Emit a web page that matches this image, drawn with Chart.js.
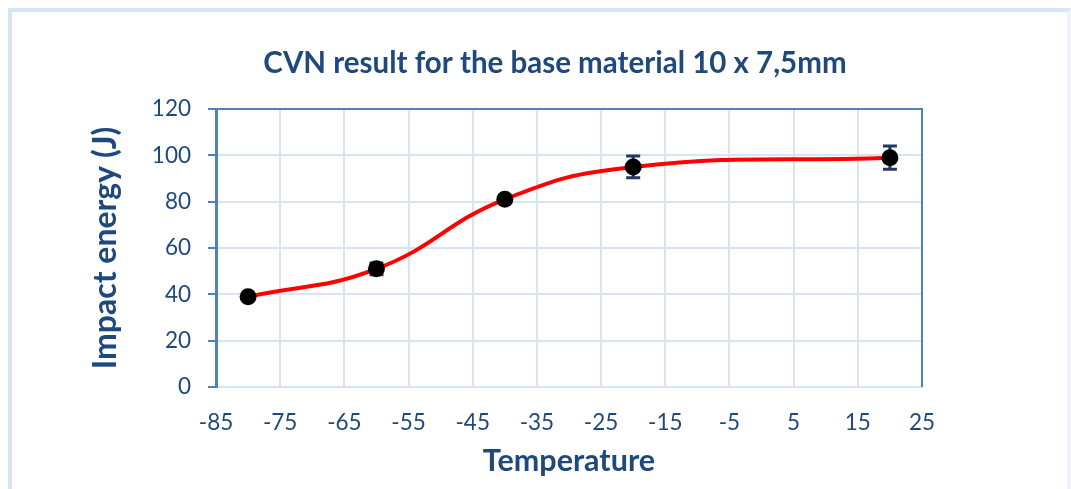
<!DOCTYPE html>
<html>
<head>
<meta charset="utf-8">
<script src="https://cdn.jsdelivr.net/npm/chart.js@4/dist/chart.umd.min.js"></script>
<style>
  html,body{margin:0;padding:0;background:#fff;}
  #frame{position:absolute;left:8px;top:8px;width:1055px;height:500px;border:4px solid #d8e4f3;border-right-color:#eef3fa;}
  #wrap{position:absolute;left:0;top:0;width:1071px;height:489px;}
</style>
</head>
<body>
<div id="frame"></div>
<div id="wrap"><canvas id="c" width="1071" height="489"></canvas></div>
<script>
// data
const temps = [-80, -60, -40, -20, 20];
const energy = [39, 51, 81, 95, 99];
const errs = [0, 2.5, 0, 4.7, 5];
const xTicks = [-85, -75, -65, -55, -45, -35, -25, -15, -5, 5, 15, 25];
const yTicks = [0, 20, 40, 60, 80, 100, 120];

const navy = '#1f497d', axisBlue = '#4f81bd', gridBlue = '#d9e4f3';
const FONT = "Lato, 'Open Sans', sans-serif";

// error bars + dark plot border (top/right)
const extras = {
  id: 'extras',
  beforeDatasetsDraw(chart) {
    const {ctx, chartArea: a} = chart;
    ctx.save();
    ctx.strokeStyle = axisBlue; ctx.lineWidth = 2;
    ctx.beginPath();
    ctx.moveTo(a.left, a.top); ctx.lineTo(a.right, a.top); ctx.lineTo(a.right, a.bottom);
    ctx.stroke();
    ctx.restore();
  },
  afterDatasetsDraw(chart) {
    const {ctx, scales: {x, y}} = chart;
    ctx.save();
    ctx.strokeStyle = '#1f3864'; ctx.lineWidth = 3;
    temps.forEach((t, i) => {
      if (!errs[i]) return;
      const px = x.getPixelForValue(t);
      const y1 = y.getPixelForValue(energy[i] + errs[i]);
      const y2 = y.getPixelForValue(energy[i] - errs[i]);
      ctx.beginPath();
      ctx.moveTo(px, y1); ctx.lineTo(px, y2);
      ctx.moveTo(px - 7, y1); ctx.lineTo(px + 7, y1);
      ctx.moveTo(px - 7, y2); ctx.lineTo(px + 7, y2);
      ctx.stroke();
    });
    // points on top of the bars
    ctx.fillStyle = '#000';
    temps.forEach((t, i) => {
      ctx.beginPath();
      ctx.arc(x.getPixelForValue(t), y.getPixelForValue(energy[i]), 8.5, 0, Math.PI * 2);
      ctx.fill();
    });
    ctx.restore();
  }
};

new Chart(document.getElementById('c'), {
  type: 'line',
  data: {
    datasets: [{
      data: temps.map((t, i) => ({x: t, y: energy[i]})),
      borderColor: '#ff0000',
      borderWidth: 4,
      tension: 0.45,
      pointRadius: 0,
      fill: false
    }]
  },
  plugins: [extras],
  options: {
    responsive: false,
    animation: false,
    layout: {padding: {left: 86, right: 47, top: 46, bottom: 10}},
    plugins: {
      legend: {display: false},
      tooltip: {enabled: false},
      title: {
        display: true,
        text: 'CVN result for the base material 10 x 7,5mm',
        color: navy,
        font: {family: FONT, size: 29.5, weight: 'bold'},
        padding: {top: 0, bottom: 27.6}
      }
    },
    scales: {
      x: {
        type: 'linear',
        min: -85, max: 25,
        afterBuildTicks: s => { s.ticks = xTicks.map(v => ({value: v})); },
        afterFit: s => { s.height = 92; },
        ticks: {color: navy, font: {family: FONT, size: 22.5}, padding: 22, maxRotation: 0},
        grid: {color: gridBlue, lineWidth: 2, drawTicks: false},
        border: {color: gridBlue, width: 2},
        title: {display: true, text: 'Temperature', color: navy,
                font: {family: FONT, size: 30.5, weight: 'bold'}, padding: {top: 8, bottom: 0}}
      },
      y: {
        type: 'linear',
        min: 0, max: 120,
        afterBuildTicks: s => { s.ticks = yTicks.map(v => ({value: v})); },
        afterFit: s => { s.width = 130; },
        ticks: {color: navy, font: {family: FONT, size: 22.5}, padding: 17},
        grid: {color: gridBlue, lineWidth: 2, tickColor: axisBlue, tickLength: 8},
        border: {color: axisBlue, width: 3},
        title: {display: true, text: 'Impact energy (J)', color: navy,
                font: {family: FONT, size: 32, weight: 'bold'}, padding: {top: 0, bottom: 10}}
      },
      // empty right-hand spacer so the chart title sits where it does in the original
      y2: {
        position: 'right',
        afterFit: s => { s.width = 102; },
        ticks: {display: false},
        grid: {display: false},
        border: {display: false}
      }
    }
  }
});
</script>
</body>
</html>
